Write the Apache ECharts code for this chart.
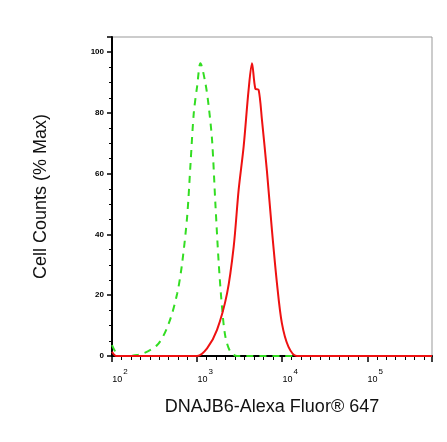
<!DOCTYPE html><html><head><meta charset="utf-8"><script src="https://cdn.jsdelivr.net/npm/echarts@6/dist/echarts.min.js"></script></head><body style="margin:0"><div id="c" style="width:447px;height:442px"></div><script>
const greenX=[2.0,2.05,2.09,2.297,2.531,2.668,2.766,2.824,2.883,2.922,2.961,3.0,3.039,3.098,3.137,3.176,3.215,3.254,3.293,3.332,3.391,3.469,4.0,5.76];
const greenY=[3.6,0.9,0,0.3,3.6,10.8,20.6,30.5,45.9,63,80,88.7,96.4,89.7,82,71,50,30.5,16,6.4,1.4,0,0,0];
const redX=[2.0,2.05,3.0,3.117,3.234,3.352,3.43,3.488,3.547,3.605,3.645,3.684,3.723,3.762,3.82,3.879,3.938,3.996,4.074,4.172,5.76];
const redY=[1.4,0,0,2.5,8.6,20.6,36,54.7,69,87.6,96.4,88,87.6,77.7,61,41.5,24,10.8,3,0,0];
const xTicks=[2,3,4,5];
const z=(a,b)=>a.map((v,i)=>[v,b[i]]);
echarts.init(document.getElementById('c')).setOption({animation:false,
grid:{left:112,right:15,top:37,bottom:86,show:true,borderColor:'#999',borderWidth:1},
xAxis:{type:'value',min:2,max:5.76,interval:1,name:'DNAJB6-Alexa Fluor® 647',nameLocation:'middle',nameGap:42,nameTextStyle:{fontSize:18,color:'#111',fontFamily:'Liberation Sans'},
axisLine:{lineStyle:{color:'#000',width:2}},axisTick:{length:6,lineStyle:{color:'#000',width:1.5}},minorTick:{show:true,splitNumber:9,length:4,lineStyle:{color:'#000'}},splitLine:{show:false},
axisLabel:{formatter:v=>xTicks.includes(v)?'{b|10}{s|'+v+'}':'',margin:12,padding:[0,0,0,16],rich:{b:{fontSize:9,color:'#000',verticalAlign:'bottom'},s:{fontSize:8,color:'#000',verticalAlign:'top',padding:[0,0,8,1]}}}},
yAxis:{type:'value',min:0,max:105,interval:20,name:'Cell Counts (% Max)',nameLocation:'middle',nameGap:62,nameTextStyle:{fontSize:18,color:'#111',fontFamily:'Liberation Sans'},
axisLine:{lineStyle:{color:'#000',width:2}},axisTick:{length:5,lineStyle:{color:'#000',width:1.5}},minorTick:{show:true,splitNumber:4,length:3,lineStyle:{color:'#000'}},splitLine:{show:false},
axisLabel:{fontSize:8,color:'#000',fontWeight:'bold',margin:8,showMaxLabel:false}},
series:[
{type:'line',data:z(greenX,greenY),showSymbol:false,smooth:0.3,lineStyle:{color:'#33dd22',width:2,type:[7,6]}},
{type:'line',data:z(redX,redY),showSymbol:false,smooth:0.3,lineStyle:{color:'#ee1111',width:2}}]});
</script></body></html>
